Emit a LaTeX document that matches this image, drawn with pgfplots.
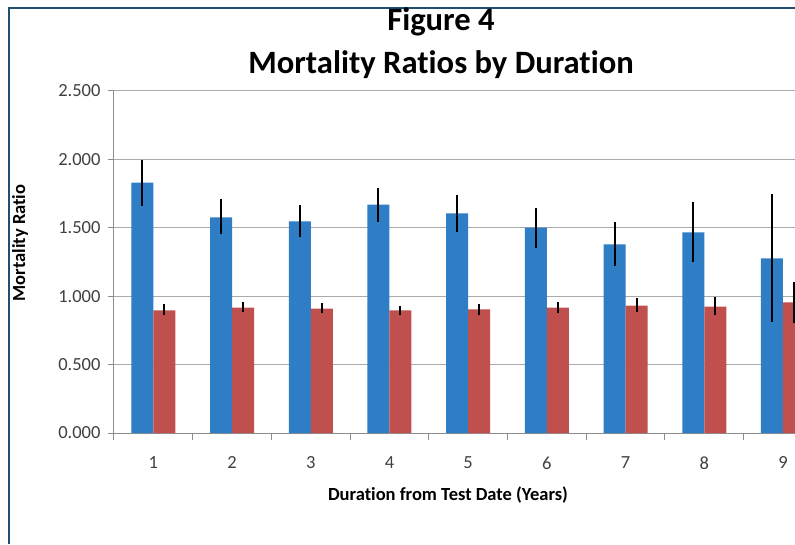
\documentclass[border=0pt]{standalone}
\usepackage{pgfplots}
\usepackage{pgfplotstable}
\usepackage{fontspec}
\setmainfont{Carlito}[Ligatures=NoCommon]
\pgfplotsset{compat=1.18}
\definecolor{barblue}{RGB}{46,125,197}
\definecolor{barred}{RGB}{192,80,77}
\definecolor{frameblue}{RGB}{31,78,110}
\definecolor{gridgray}{RGB}{170,170,170}
\definecolor{axisgray}{RGB}{140,140,140}
\definecolor{ticktext}{RGB}{64,64,64}

\pgfplotstableread{
x y ep em
1 1.830 0.166 0.171
2 1.577 0.136 0.125
3 1.547 0.120 0.114
4 1.669 0.124 0.124
5 1.606 0.134 0.139
6 1.501 0.146 0.146
7 1.379 0.161 0.158
8 1.467 0.219 0.215
9 1.277 0.468 0.463
}\bluedata

\pgfplotstableread{
x y ep em
1 0.896 0.045 0.033
2 0.916 0.039 0.034
3 0.909 0.039 0.032
4 0.897 0.034 0.034
5 0.904 0.039 0.041
6 0.916 0.044 0.041
7 0.931 0.054 0.044
8 0.923 0.071 0.063
9 0.955 0.151 0.153
}\reddata

\begin{document}
\begin{tikzpicture}[x=1pt,y=1pt]
\path[use as bounding box] (0,0) rectangle (795,544);
\fill[white] (0,0) rectangle (795,544);
\draw[frameblue, line width=2.5pt] (9,0) -- (9,536) -- (800,536);
\begin{axis}[
  at={(114pt,111pt)}, anchor=south west,
  scale only axis, width=681pt, height=342pt,
  ybar, bar width=22pt,
  xmin=0.5, xmax=9.153,
  ymin=0, ymax=2.5,
  ytick={0,0.5,...,2.5},
  xtick={1,...,9},
  minor xtick={0.5,1.5,...,8.5},
  major tick length=6pt,
  minor tick length=7pt,
  tick align=outside,
  axis x line*=bottom, axis y line*=left,
  x axis line style={-, axisgray, line width=1pt},
  y axis line style={-, axisgray, line width=1pt},
  x tick style={draw=none},
  minor x tick style={draw=axisgray, line width=1pt},
  y tick style={axisgray, line width=1pt},
  ymajorgrids, grid style={gridgray, line width=1pt},
  /pgf/number format/assume math mode=true,
  yticklabel style={/pgf/number format/fixed, /pgf/number format/fixed zerofill, /pgf/number format/precision=3},
  ticklabel style={font=\fontsize{18.5}{20}\selectfont, text=ticktext},
  xticklabel style={yshift=-14pt},
  yticklabel style={xshift=-4pt},
  xlabel={Duration from Test Date (Years)},
  xlabel style={at={(axis description cs:0.4905,-0.1813)}, anchor=center, font=\fontsize{18.5}{20}\selectfont\bfseries},
  ylabel={Mortality Ratio},
  ylabel style={at={(axis description cs:-0.138,0.5556)}, anchor=center, font=\fontsize{18.5}{20}\selectfont\bfseries},
  title={Figure 4\\Mortality Ratios by Duration},
  title style={at={(axis description cs:0.4802,1.1213)}, anchor=center, align=center, font=\fontsize{32.6}{43}\selectfont\bfseries},
  error bars/error bar style={line width=2pt, black},
  error bars/error mark=none,
]
\addplot[fill=barblue, draw=none, bar shift=-11pt,
  error bars/.cd, y dir=both, y explicit]
  table[x=x, y=y, y error plus=ep, y error minus=em]{\bluedata};
\addplot[fill=barred, draw=none, bar shift=11pt,
  error bars/.cd, y dir=both, y explicit]
  table[x=x, y=y, y error plus=ep, y error minus=em]{\reddata};
\end{axis}
\end{tikzpicture}
\end{document}
